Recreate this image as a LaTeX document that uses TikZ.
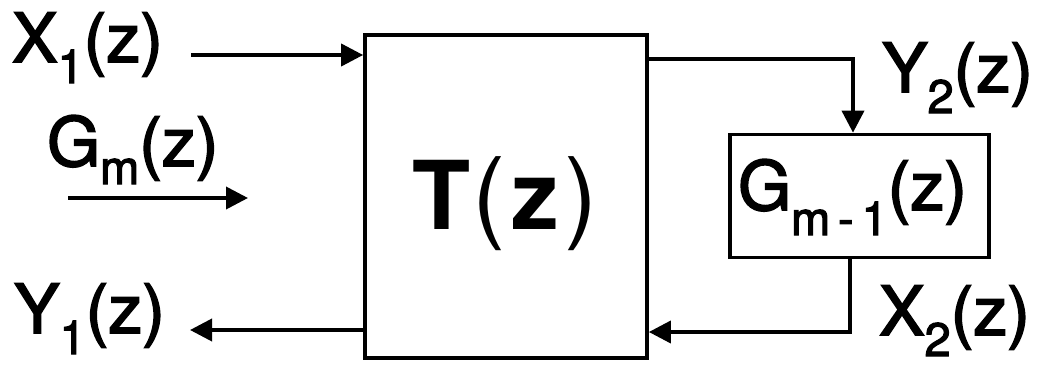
\documentclass[tikz,border=0pt]{standalone}
\usepackage{fontspec}
\setmainfont{TeX Gyre Heros}
\newfontfamily\thickfont[FakeBold=2.5]{TeX Gyre Heros}
\usetikzlibrary{arrows.meta,calc}
\newcommand{\bigtxt}{\thickfont\fontsize{68}{70}\selectfont}
\newcommand{\subtxt}[2]{\raisebox{-#2}{\fontsize{47}{48}\selectfont #1}}
\tikzset{
  x=1pt, y=-1pt,
  wire/.style={line width=3.7pt},
  arr/.style={wire, -{Triangle[length=22pt,width=22pt]}},
  blockbox/.style={draw, line width=3.7pt, inner sep=0pt},
  lbl/.style={inner sep=0pt, anchor=base west, font=\bigtxt},
}
\begin{document}
\begin{tikzpicture}
\useasboundingbox (0,0) rectangle (1047,370);
% blocks
\node[blockbox, minimum width=282pt, minimum height=323pt] (T) at (506,196.5) {};
\node[inner sep=0pt, anchor=base west, font=\fontsize{95}{100}\selectfont] (Tlbl) at (412,229) {\textbf{T}\kern2pt{\fontsize{100}{100}\selectfont(}\kern6pt\textbf{z}\kern5pt{\fontsize{100}{100}\selectfont)}};
\node[blockbox, minimum width=259pt, minimum height=123pt] (G) at (859.5,196) {};
\node[lbl] (Glbl) at (738,210) {G\subtxt{m\,-\,1}{25pt}(z)};
% labels
\node[lbl] (X1) at (12,62) {X\subtxt{1}{21pt}(z)};
\node[lbl] (Gm) at (47,166) {G\subtxt{m}{18pt}(z)};
\node[lbl] (Y1) at (14,333) {Y\subtxt{1}{21pt}(z)};
\node[lbl] (Y2) at (882,92) {Y\subtxt{2}{21pt}(z)};
\node[lbl] (X2) at (879,335) {X\subtxt{2}{21pt}(z)};
% coordinates
\coordinate (x1s) at (191,55);
\coordinate (gms) at (68,198);
\coordinate (gme) at (248,198);
\coordinate (y1e) at (190,330);
\coordinate (y2c) at (853,59);
\coordinate (x2c) at (850,332);
% connectors
\draw[arr] (x1s) -- (x1s -| T.west);
\draw[arr] (gms) -- (gme);
\draw[arr] (y1e -| T.west) -- (y1e);
\draw[arr] (y2c -| T.east) -- (y2c) -- (y2c |- G.north);
\draw[arr] (x2c |- G.south) -- (x2c) -- (x2c -| T.east);
\end{tikzpicture}
\end{document}
